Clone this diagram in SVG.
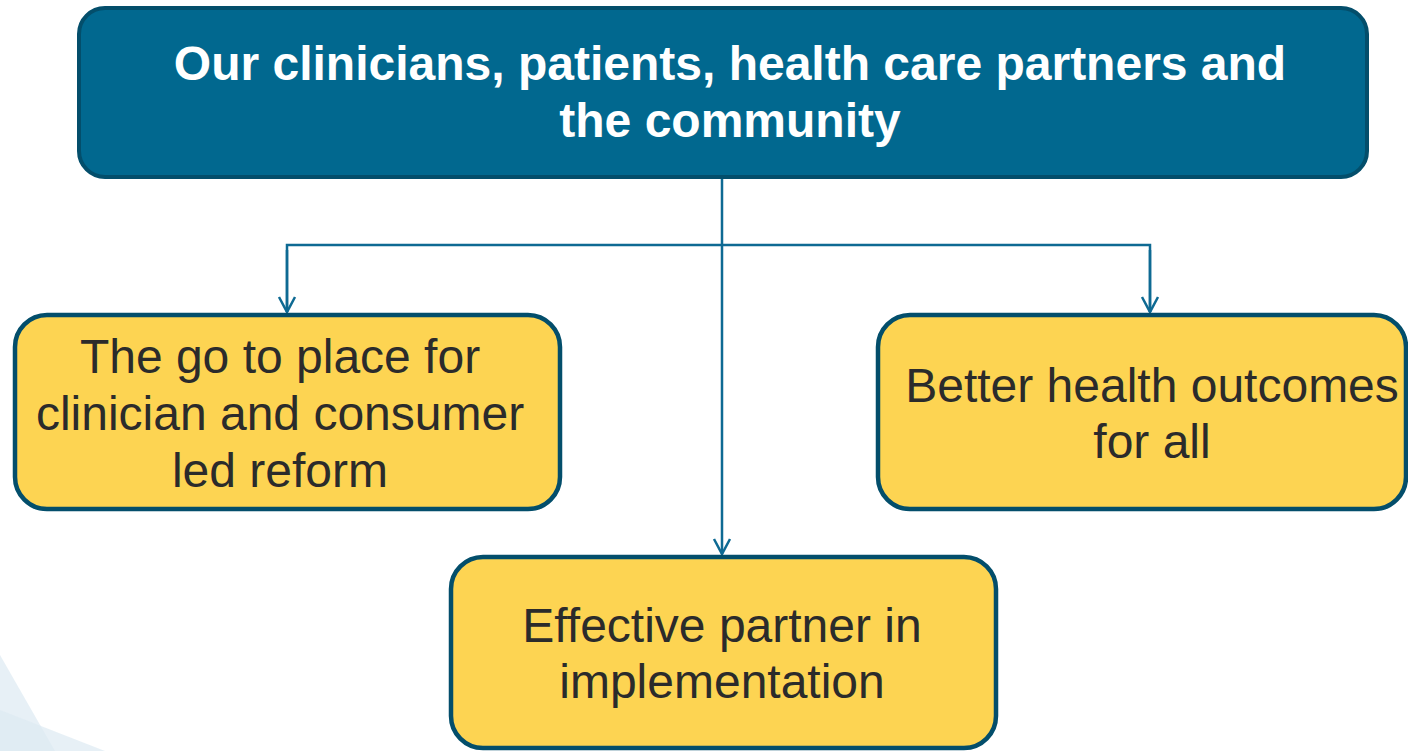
<svg xmlns="http://www.w3.org/2000/svg" width="1408" height="751" viewBox="0 0 1408 751">
<defs>
<style>
.top{fill:#01688f;stroke:#034e6b;stroke-width:4}
.box{fill:#fdd452;stroke:#034e6b;stroke-width:4.5}
.tt{font-family:"Liberation Sans",Arial,sans-serif;font-weight:bold;font-size:48px;fill:#ffffff;text-anchor:middle}
.bt{font-family:"Liberation Sans",Arial,sans-serif;font-size:48px;fill:#2b2b2b;text-anchor:middle}
.conn{fill:none;stroke:#0e6a93;stroke-width:2.5}
</style>
<marker id="arr" markerWidth="20" markerHeight="20" refX="0" refY="0" markerUnits="userSpaceOnUse" orient="auto" overflow="visible">
<path d="M-15,-8 L0,0 L-15,8" fill="none" stroke="#0e6a93" stroke-width="2.5"/>
</marker>
</defs>
<g id="background">
<polygon points="0,655 55,751 0,751" fill="#dde9f2" fill-opacity="0.7"/>
<polygon points="0,710 105,751 0,751" fill="#dde9f2" fill-opacity="0.7"/>
</g>
<g id="connectors">
<line class="conn" x1="722" y1="178" x2="722" y2="554" marker-end="url(#arr)"/>
<polyline class="conn" points="287,312 287,245 1150,245 1150,312"/>
<line class="conn" x1="287" y1="250" x2="287" y2="312" marker-end="url(#arr)"/>
<line class="conn" x1="1150" y1="250" x2="1150" y2="312" marker-end="url(#arr)"/>
</g>
<g id="node-top">
<rect class="top" x="79" y="8" width="1288" height="169" rx="26"/>
<text class="tt" x="730" y="80">Our clinicians, patients, health care partners and</text>
<text class="tt" x="730" y="137">the community</text>
</g>
<g id="node-left">
<rect class="box" x="15" y="315" width="545" height="194" rx="32"/>
<text class="bt" x="280" y="373">The go to place for</text>
<text class="bt" x="280" y="430">clinician and consumer</text>
<text class="bt" x="280" y="487">led reform</text>
</g>
<g id="node-right">
<rect class="box" x="878" y="315" width="528" height="194" rx="32"/>
<text class="bt" x="1152" y="402">Better health outcomes</text>
<text class="bt" x="1152" y="458">for all</text>
</g>
<g id="node-bottom">
<rect class="box" x="451" y="557" width="545" height="191" rx="32"/>
<text class="bt" x="722" y="642">Effective partner in</text>
<text class="bt" x="722" y="698">implementation</text>
</g>
</svg>
